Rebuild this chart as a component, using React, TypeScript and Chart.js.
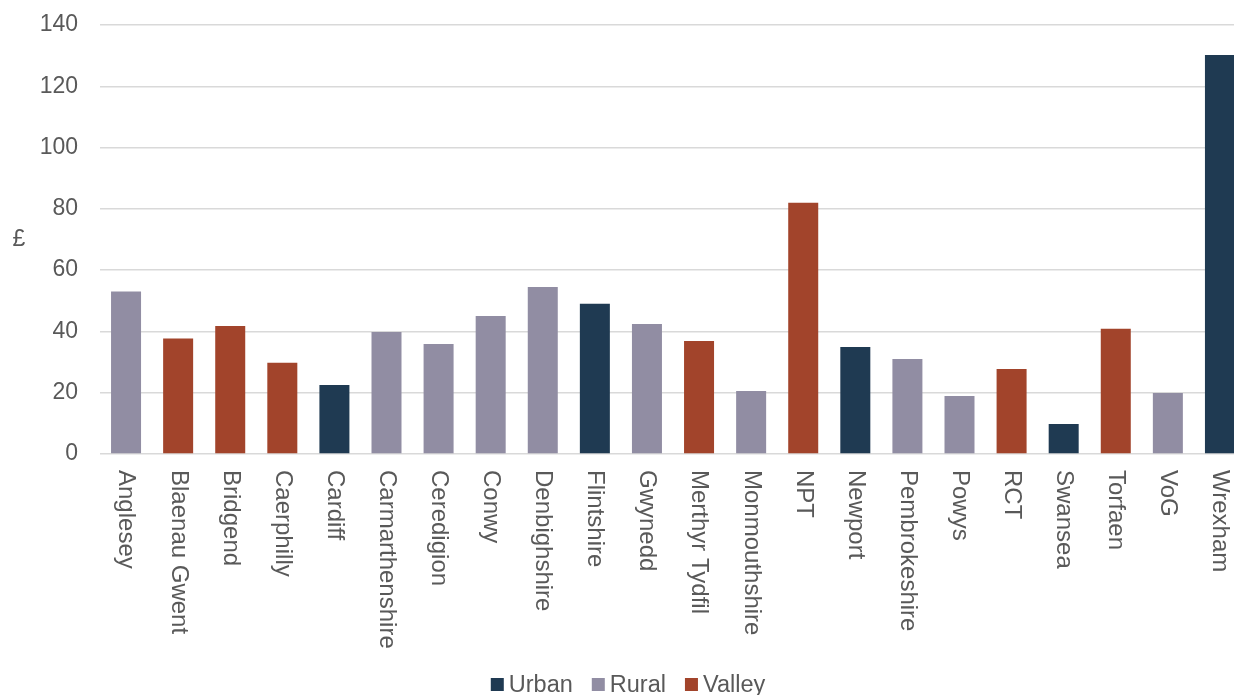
import React, { useEffect, useRef } from "react";
import { Chart, registerables } from "chart.js";

Chart.register(...registerables);

const categories = [
  "Anglesey", "Blaenau Gwent", "Bridgend", "Caerphilly", "Cardiff", "Carmarthenshire",
  "Ceredigion", "Conwy", "Denbighshire", "Flintshire", "Gwynedd", "Merthyr Tydfil",
  "Monmouthshire", "NPT", "Newport", "Pembrokeshire", "Powys", "RCT", "Swansea",
  "Torfaen", "VoG", "Wrexham",
];
const values = [
  53.0, 37.7, 41.8, 29.8, 22.5, 39.8, 35.9, 45.0, 54.5, 49.0, 42.4, 36.9,
  20.6, 82.0, 34.9, 31.0, 18.9, 27.7, 9.8, 40.9, 19.9, 130.2,
];
const areaTypes = [
  "Rural", "Valley", "Valley", "Valley", "Urban", "Rural", "Rural", "Rural", "Rural",
  "Urban", "Rural", "Valley", "Rural", "Valley", "Urban", "Rural", "Rural", "Valley",
  "Urban", "Valley", "Rural", "Urban",
];
const legendLabels = ["Urban", "Rural", "Valley"];
const yTicks = { min: 0, max: 140, step: 20 };
const yTitle = "£";

const typeColors: Record<string, string> = {
  Urban: "#1F3A52",
  Rural: "#918DA3",
  Valley: "#A2442B",
};

const FONT = "'Liberation Sans', Arial, sans-serif";
const TEXT = "#595959";
const PLOT_TOP = 25;
const PLOT_BOTTOM = 454;
const CANVAS_W = 1246;
const CANVAS_H = 695;

const labelPlugin = {
  id: "customLabels",
  afterDraw(chart: any) {
    const ctx = chart.ctx;
    const xs = chart.scales.x;
    const area = chart.chartArea;
    ctx.save();
    ctx.font = `24px ${FONT}`;
    ctx.fillStyle = TEXT;
    categories.forEach((c, i) => {
      const x = xs.getPixelForValue(i);
      ctx.save();
      ctx.translate(x, area.bottom + 16);
      ctx.rotate(Math.PI / 2);
      ctx.textAlign = "left";
      ctx.textBaseline = "middle";
      ctx.fillText(c, 0, 0);
      ctx.restore();
    });
    ctx.font = `23px ${FONT}`;
    ctx.textAlign = "center";
    ctx.textBaseline = "middle";
    ctx.fillText(yTitle, 19, 240);
    ctx.font = `23.5px ${FONT}`;
    const box = 13;
    const gapBoxText = 5;
    const gapItems = 19;
    const widths = legendLabels.map((l) => box + gapBoxText + ctx.measureText(l).width);
    const total = widths.reduce((a, b) => a + b, 0) + gapItems * (legendLabels.length - 1);
    let lx = 628 - total / 2;
    const ly = 678;
    legendLabels.forEach((l, i) => {
      ctx.fillStyle = typeColors[l];
      ctx.fillRect(lx, ly, box, box);
      ctx.fillStyle = TEXT;
      ctx.textAlign = "left";
      ctx.textBaseline = "alphabetic";
      ctx.fillText(l, lx + box + gapBoxText, 692);
      lx += widths[i] + gapItems;
    });
    ctx.restore();
  },
};

export default function App() {
  const ref = useRef<HTMLCanvasElement>(null);
  useEffect(() => {
    if (!ref.current) return;
    const chart = new Chart(ref.current, {
      type: "bar",
      data: {
        labels: categories,
        datasets: [
          {
            label: "£",
            data: values,
            backgroundColor: areaTypes.map((t) => typeColors[t]),
            borderWidth: 0,
            categoryPercentage: 1,
            barPercentage: 0.576,
          },
        ],
      },
      options: {
        animation: false,
        responsive: false,
        devicePixelRatio: 1,
        layout: { padding: { top: PLOT_TOP, left: 0, right: 0, bottom: 0 } },
        plugins: {
          legend: { display: false },
          tooltip: { enabled: false },
          title: { display: false },
        },
        scales: {
          x: {
            grid: { display: false },
            border: { display: false },
            ticks: { display: false },
            afterFit(scale: any) {
              scale.height = CANVAS_H - PLOT_BOTTOM;
              scale.paddingLeft = 0;
              scale.paddingRight = 0;
            },
          },
          y: {
            min: yTicks.min,
            max: yTicks.max,
            ticks: {
              stepSize: yTicks.step,
              padding: 22,
              color: TEXT,
              font: { family: FONT, size: 23 },
            },
            grid: { color: "#D9D9D9", lineWidth: 1.5, drawTicks: false },
            border: { display: false },
            afterFit(scale: any) {
              scale.width = 100;
              scale.paddingTop = 0;
              scale.paddingBottom = 0;
            },
          },
        },
      },
      plugins: [labelPlugin],
    });
    return () => chart.destroy();
  }, []);
  return (
    <div
      style={{
        position: "fixed",
        left: 0,
        top: 0,
        width: 1234,
        height: 695,
        overflow: "hidden",
        background: "#fff",
      }}
    >
      <canvas ref={ref} width={CANVAS_W} height={CANVAS_H} style={{ width: CANVAS_W, height: CANVAS_H, display: "block" }} />
    </div>
  );
}
